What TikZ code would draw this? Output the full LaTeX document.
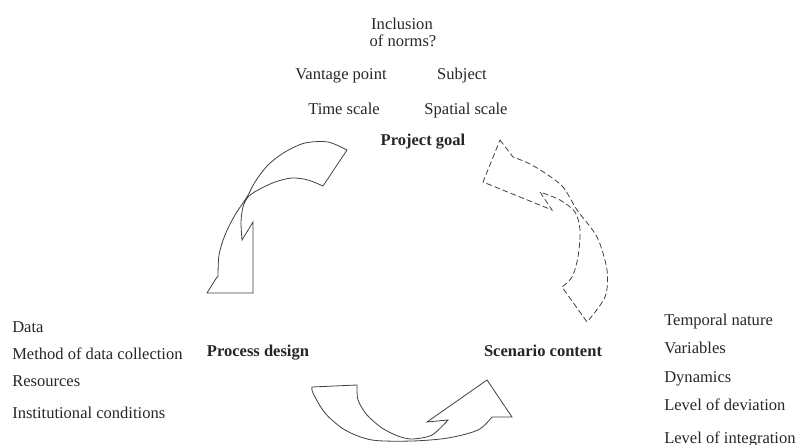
\documentclass[tikz,border=0pt]{standalone}
\usepackage{amsmath}
\usepackage{xcolor}
\usepackage{tikz}
\usepackage{fontspec}
\setmainfont{Liberation Serif}

\begin{document}
\begin{tikzpicture}[x=0.75pt,y=-0.75pt,line cap=round,
  lbl/.style={font=\fontsize{12.4}{14}\selectfont,text=black!85,inner sep=0pt,anchor=base},
  lst/.style={lbl,anchor=base west},
  head/.style={lbl,font=\fontsize{12.4}{14}\selectfont\bfseries},
  shaft/.style={draw=black!75,line width=0.6pt,line join=miter},
  dashshaft/.style={shaft,dash pattern=on 4pt off 2.5pt}]
  \useasboundingbox (0,0) rectangle (798,445);

% the three stages of the cycle
  \node[head] (goal) at (423,146) {Project goal};
  \node[head] (design) at (258,356) {Process design};
  \node[head] (content) at (543,356) {Scenario content};

% aspects of the goal
  \node[lbl] (incl) at (402,30) {Inclusion};
  \node[lbl] (norms) at (403,47) {of norms?};
  \node[lbl] (vantage) at (341,80) {Vantage point};
  \node[lbl] (subject) at (462,80) {Subject};
  \node[lbl] (time) at (344,115) {Time scale};
  \node[lbl] (spatial) at (466,115) {Spatial scale};

% aspects of the process design
  \foreach \txt/\yy [count=\i] in {Data/332,Method of data collection/359,
      Resources/386,Institutional conditions/418}
    \node[lst] (pd\i) at (12,\yy) {\txt};

% aspects of the scenario content
  \foreach \txt/\yy [count=\i] in {Temporal nature/325,Variables/353,
      Dynamics/382,Level of deviation/410,Level of integration/443}
    \node[lst] (sc\i) at (664,\yy) {\txt};

% goal -> design
  \draw[shaft] (347,150) -- (323,186)
    -- plot[smooth] coordinates {(323,186) (308,180) (292,178) (275,182)
       (258,190) (248,197) (243,207) (241,222) (242,240)}
    -- (253,222) -- (253,293) -- (207,293) -- (217,277)
    -- plot[smooth] coordinates {(218,277) (219,255) (225,235) (235,215)
       (247,197) (255,182) (268,165) (285,152) (305,143) (328,142) (347,150)}
    -- cycle;

% design -> content
  \draw[shaft] (312,387) -- (357,385)
    -- plot[smooth] coordinates {(357,385) (358,400) (367,415) (382,428)
       (398,436) (412,439) (432,435) (448,420)}
    -- (427,422) -- (487,380) -- (512,417) -- (492,417)
    -- plot[smooth] coordinates {(492,417) (478,430) (448,438) (412,441)
       (372,440) (345,430) (325,413) (313,393) (312,387)}
    -- cycle;

% content -> goal (dashed)
  \draw[dashshaft] (500,140) -- (513,157)
    -- plot[smooth] coordinates {(513,157) (528,163) (545,173) (563,187)
       (577,210) (597,237) (607,270) (605,297) (587,322)}
    -- (562,287)
    -- plot[smooth] coordinates {(562,287) (572,277) (578,257) (580,230)
       (575,212) (560,200) (540,192)}
    -- (552,210) -- (483,182) -- cycle;
\end{tikzpicture}
\end{document}
